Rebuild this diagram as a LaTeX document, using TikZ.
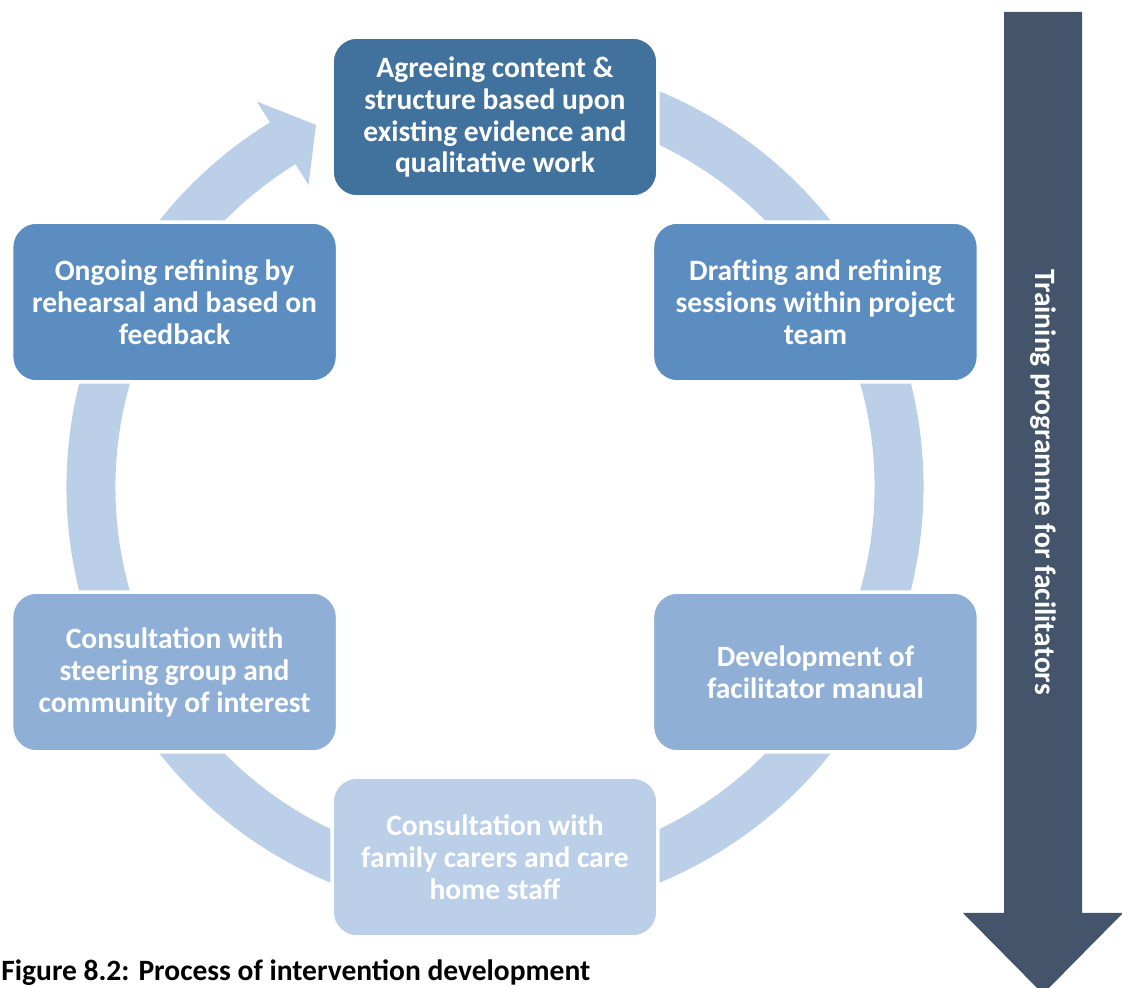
\documentclass[tikz,border=0pt]{standalone}
\usepackage{fontspec}
\setmainfont{Carlito}
\usetikzlibrary{calc}

\begin{document}
\begin{tikzpicture}[x=0.02cm,y=0.02cm]
\definecolor{stageA}{RGB}{65,113,157}
\definecolor{stageB}{RGB}{92,141,192}
\definecolor{stageC}{RGB}{143,175,214}
\definecolor{stageD}{RGB}{188,207,233}
\colorlet{ringcol}{stageD}
\definecolor{progcol}{RGB}{68,84,106}
\tikzset{
stage/.style={rounded corners=0.5cm,draw=white,line width=0.07cm,
  minimum width=6.52cm,minimum height=3.2cm,inner sep=0pt,align=center,
  text=white,font=\fontsize{16.8}{18.2}\selectfont\bfseries},
label/.style={inner sep=0pt,font=\fontsize{16.8}{18.2}\selectfont\bfseries},
}
\def\R{404}     % ring radius (middle of band)
\def\W{0.98cm}  % ring width
\def\D{370}     % distance of stage centres
\def\aH{121.7}  % back of arrow head
\def\aT{116.3}  % tip of arrow head

\useasboundingbox (0,0) rectangle (1122,987);
\coordinate (O) at (495,500);

% CYCLE RING
\draw[ringcol,line width=\W] ($(O)+(\aH-0.6:\R)$) arc[start angle=\aH-0.6,end angle=440,radius=\R];
\fill[ringcol] ($(O)+(\aH:453)$) -- ($(O)+(\aT:\R)$) -- ($(O)+(\aH:355)$) -- cycle;

% STAGES
\node[stage,fill=stageA] (agree) at ($(O)+(90:\D)$)
  {Agreeing content \&\\structure based upon\\existing evidence and\\qualitative work};
\node[stage,fill=stageB] (draft) at ($(O)+(30:\D)$)
  {Drafting and refining\\sessions within project\\team};
\node[stage,fill=stageC] (manual) at ($(O)+(-30:\D)$)
  {Development of\\facilitator manual};
\node[stage,fill=stageD] (carers) at ($(O)+(-90:\D)$)
  {Consultation with\\family carers and care\\home staff};
\node[stage,fill=stageC] (steer) at ($(O)+(210:\D)$)
  {Consultation with\\steering group and\\community of interest};
\node[stage,fill=stageB] (rehearse) at ($(O)+(150:\D)$)
  {Ongoing refining by\\rehearsal and based on\\feedback};

% TRAINING ARROW
\fill[progcol] (1004,975) -- (1004,74) -- (963,74) -- (1043,-7) -- (1123,74)
  -- (1082,74) -- (1082,975) -- cycle;
\node[label,rotate=-90,text=white] (training) at (1043,505)
  {Training programme for facilitators};

% CAPTION
\node[label,anchor=base west] (caption) at (1,7)
  {Figure 8.2: Process of intervention development};

\end{tikzpicture}
\end{document}
